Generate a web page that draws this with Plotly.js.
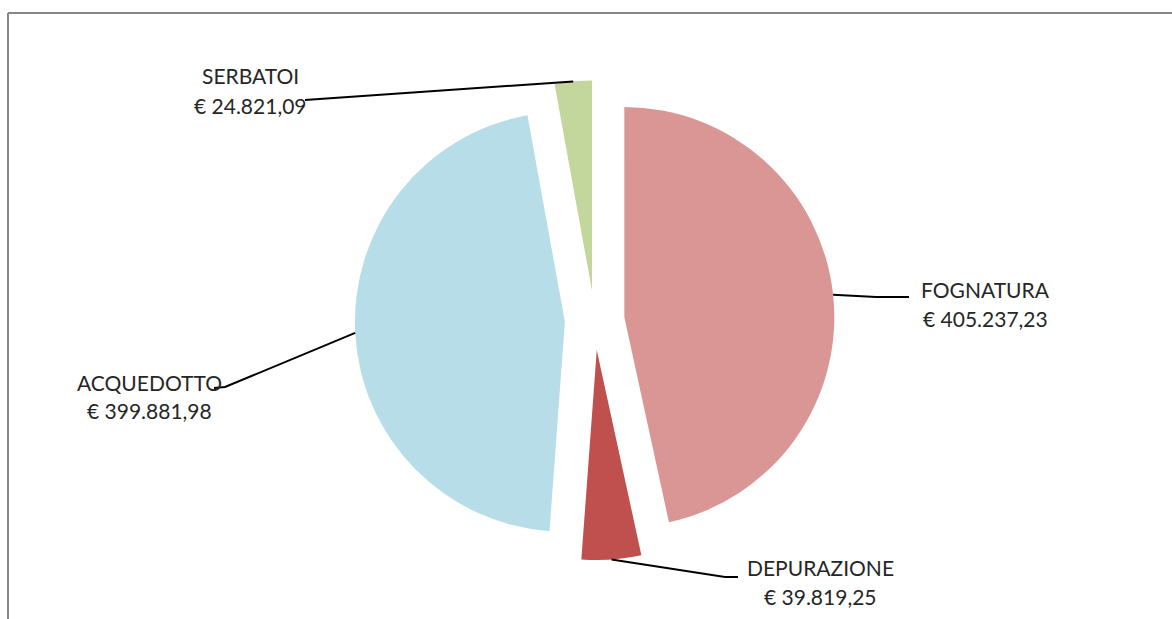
<!DOCTYPE html>
<html>
<head>
<meta charset="utf-8">
<script src="https://cdn.plot.ly/plotly-3.0.1.min.js"></script>
<style>html,body{margin:0;padding:0;background:#fff;}#chart{width:1172px;height:619px;}</style>
</head>
<body>
<div id="chart"></div>
<script>
// ---- data ----
var categories = ["FOGNATURA", "DEPURAZIONE", "ACQUEDOTTO", "SERBATOI"];
var values = [405237.23, 39819.25, 399881.98, 24821.09];
var valueLabels = ["€ 405.237,23", "€ 39.819,25", "€ 399.881,98", "€ 24.821,09"];
var colors = ["#D99694", "#C0504D", "#B7DEE8", "#C3D69B"];

// ---- layout config ----
var W = 1172, H = 619;
var pull = 0.142;
var domX = [0.3028, 0.7120];
var domY = [0.0952, 0.8700];
// label text centres (px) and leader line label-side points (px)
var labelPos = [
  {x: 985, y1: 289, y2: 318, bend: [876, 297], end: [909, 297]},
  {x: 820, y1: 567, y2: 596, bend: [725, 577], end: [738, 577]},
  {x: 149, y1: 382, y2: 410, bend: [225, 387], end: [214, 388]},
  {x: 250, y1: 76, y2: 105, bend: null, end: [305, 100]}
];

// pie geometry as plotly computes it
var rx = W * (domX[1] - domX[0]) / 2, ry = H * (domY[1] - domY[0]) / 2;
var R = Math.min(rx, ry) / (1 + pull);
var cx = W * (domX[0] + domX[1]) / 2;
var cy = H * (1 - (domY[0] + domY[1]) / 2);
var total = values.reduce(function(a, b){return a + b;}, 0);

function px(x){return x / W;}
function py(y){return 1 - y / H;}

var shapes = [
  {type: "line", xref: "paper", yref: "paper", x0: px(8), y0: py(13), x1: px(1172), y1: py(13), line: {color: "#878787", width: 2}},
  {type: "line", xref: "paper", yref: "paper", x0: px(8), y0: py(13), x1: px(8), y1: py(619), line: {color: "#878787", width: 2}}
];
var annotations = [];
var cum = 0;
var fontSpec = {family: "Lato, 'Open Sans', sans-serif", size: 21, color: "#262626"};
for (var i = 0; i < values.length; i++) {
  var mid = (cum + values[i] / 2) / total * 2 * Math.PI;
  cum += values[i];
  var dx = Math.sin(mid), dy = -Math.cos(mid);
  var ax = cx + dx * R * (1 + pull), ay = cy + dy * R * (1 + pull);
  var L = labelPos[i];
  var path = "M" + px(ax) + "," + py(ay);
  if (L.bend) path += " L" + px(L.bend[0]) + "," + py(L.bend[1]);
  path += " L" + px(L.end[0]) + "," + py(L.end[1]);
  shapes.push({type: "path", xref: "paper", yref: "paper", path: path, line: {color: "#000000", width: 2}});
  annotations.push({xref: "paper", yref: "paper", x: px(L.x), y: py(L.y1), text: categories[i], showarrow: false, xanchor: "center", yanchor: "middle", font: fontSpec});
  annotations.push({xref: "paper", yref: "paper", x: px(L.x), y: py(L.y2), text: valueLabels[i], showarrow: false, xanchor: "center", yanchor: "middle", font: fontSpec});
}

var trace = {
  type: "pie",
  labels: categories,
  values: values,
  sort: false,
  direction: "clockwise",
  rotation: 0,
  pull: pull,
  marker: {colors: colors, line: {width: 0}},
  textinfo: "none",
  hoverinfo: "label+value",
  domain: {x: domX, y: domY},
  showlegend: false
};

Plotly.newPlot("chart", [trace], {
  width: W, height: H,
  margin: {l: 0, r: 0, t: 0, b: 0},
  paper_bgcolor: "#ffffff",
  showlegend: false,
  shapes: shapes,
  annotations: annotations
}, {displayModeBar: false, staticPlot: true});
</script>
</body>
</html>
